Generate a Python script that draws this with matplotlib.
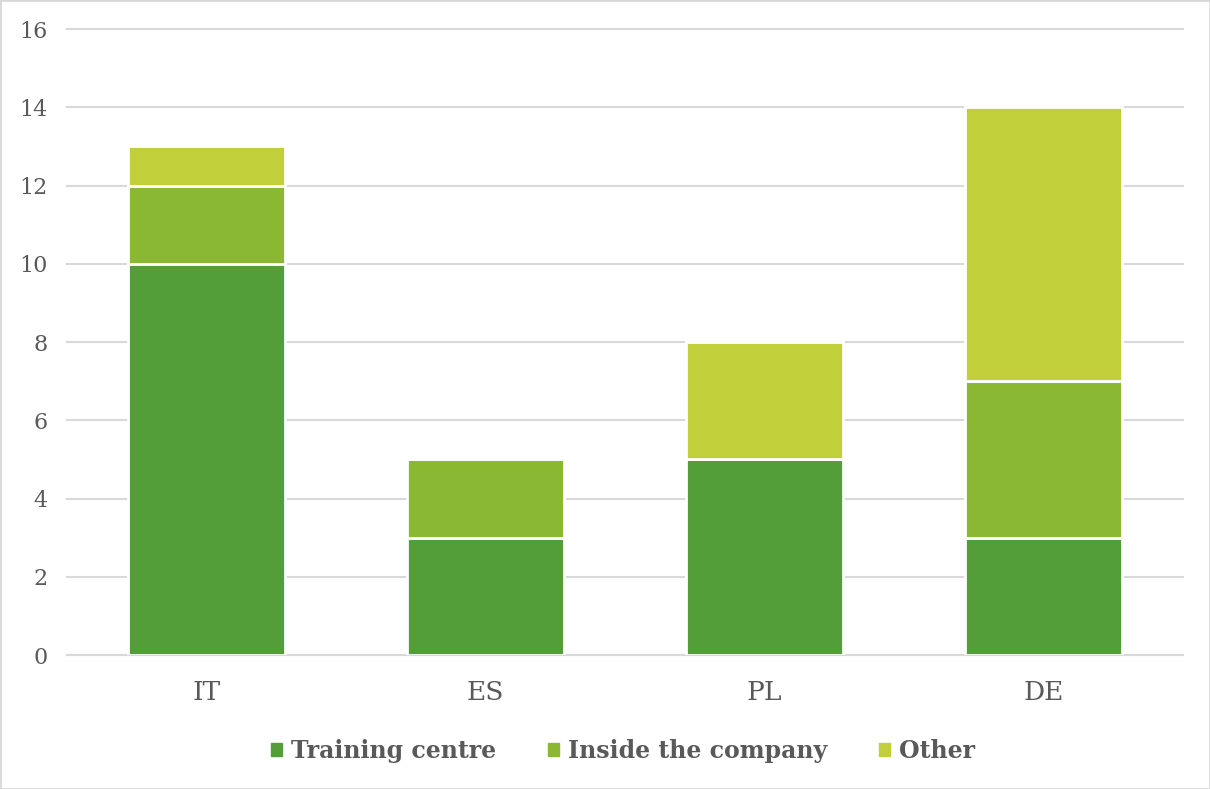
import numpy as np
import matplotlib.pyplot as plt
from matplotlib.patches import Rectangle

countries = ['IT', 'ES', 'PL', 'DE']
training_centre = [10, 3, 5, 3]
inside_company = [2, 2, 0, 4]
other = [1, 0, 3, 7]
series_names = ['Training centre', 'Inside the company', 'Other']
colors = ['#549E39', '#8AB833', '#C0CF3A']

plt.rcParams['font.family'] = ['DejaVu Serif']

fig = plt.figure(figsize=(12.1, 7.89), dpi=100)
ax = fig.add_axes([0.0554, 0.1698, 0.9223, 0.7934])

x = np.arange(len(countries))
bottom = np.zeros(len(countries))
for vals, col, name in zip([training_centre, inside_company, other], colors, series_names):
    ax.bar(x, vals, width=0.56, bottom=bottom, color=col, edgecolor='white',
           linewidth=2, label=name, zorder=3)
    bottom += np.array(vals)

ax.set_xlim(-0.5, 3.5)
ax.set_ylim(0, 16)
ax.set_yticks(range(0, 17, 2))
ax.set_xticks(x)
ax.set_xticklabels(countries, fontsize=19, color='#595959')
ax.tick_params(axis='y', labelsize=16, labelcolor='#595959', length=0, pad=14)
ax.tick_params(axis='x', length=0, pad=18)
ax.grid(axis='y', color='#D9D9D9', linewidth=1.5, zorder=0)
for gl in ax.get_ygridlines():
    gl.set_clip_on(False)
for s in ['top', 'right', 'left']:
    ax.spines[s].set_visible(False)
ax.spines['bottom'].set_color('#D9D9D9')
ax.spines['bottom'].set_linewidth(1.5)

handles = [Rectangle((0, 0), 1, 1, color=c) for c in colors]
leg = fig.legend(handles, series_names, loc='center', bbox_to_anchor=(0.515, 0.048),
                 ncol=3, frameon=False, handlelength=0.45, handleheight=0.45,
                 handletextpad=0.4, columnspacing=2.2,
                 prop={'size': 17, 'weight': 'bold'})
for t in leg.get_texts():
    t.set_color('#595959')

fig.patches.append(Rectangle((0, 0), 1, 1, transform=fig.transFigure, fill=False,
                             edgecolor='#D9D9D9', linewidth=2))

fig.savefig('out.png')
